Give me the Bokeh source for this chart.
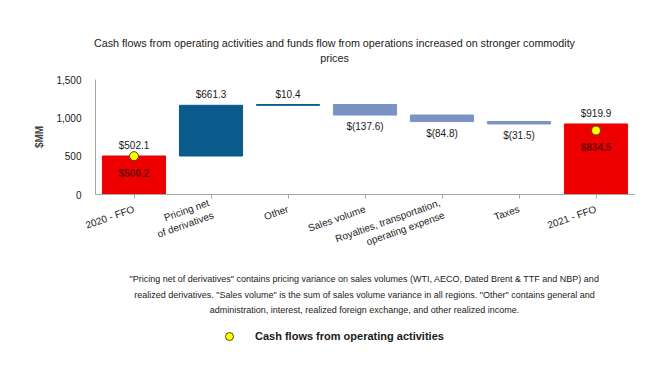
from bokeh.plotting import figure
from bokeh.layouts import column
from bokeh.models import (ColumnDataSource, Legend, LegendItem, FixedTicker,
                          NumeralTickFormatter, Range1d, FactorRange)
from bokeh.core.properties import value
from bokeh.embed import file_html
from bokeh.resources import INLINE

FONT = "Liberation Sans"

categories = ["2020 - FFO", "Pricing net\nof derivatives", "Other", "Sales volume",
              "Royalties, transportation,\noperating expense", "Taxes", "2021 - FFO"]
changes = [502.1, 661.3, 10.4, -137.6, -84.8, -31.5, 919.9]
kinds = ["total", "up", "up", "down", "down", "down", "total"]
cfo_values = [500.2, 834.5]
cfo_cats = ["2020 - FFO", "2021 - FFO"]
y_ticks = [0, 500, 1000, 1500]

title_lines = ["Cash flows from operating activities and funds flow from operations increased on stronger commodity",
               "prices"]
note_lines = ['"Pricing net of derivatives" contains pricing variance on sales volumes (WTI, AECO, Dated Brent & TTF and NBP) and',
              'realized derivatives. "Sales volume" is the sum of sales volume variance in all regions. "Other" contains general and',
              'administration, interest, realized foreign exchange, and other realized income.']
legend_label = "Cash flows from operating activities"

# waterfall geometry from data
bottoms, tops, colors, labels = [], [], [], []
running = 0.0
for c, v, k in zip(categories, changes, kinds):
    if k == "total":
        b, t = 0.0, v
        running = v
        colors.append("#ee0000")
        labels.append(f"${v:,.1f}")
    else:
        b = running
        running = running + v
        t = running
        colors.append("#0b5a8c" if k == "up" else "#7b93c3")
        labels.append(f"${v:,.1f}" if v > 0 else f"$({-v:,.1f})")
    bottoms.append(min(b, t))
    tops.append(max(b, t))

W = 650
TOP_H, CHART_H = 71, 200
BOT_H = 364 - TOP_H - CHART_H
TXT = "#1a1a1a"

# ---------- title figure ----------
pt = figure(width=W, height=TOP_H, x_range=Range1d(0, W), y_range=Range1d(TOP_H, 0),
            output_backend="svg", toolbar_location=None, min_border=0, frame_align=False)
pt.axis.visible = False
pt.grid.visible = False
pt.outline_line_color = None
pt.text(x=[334, 334], y=[42, 57], text=title_lines, text_align="center", text_baseline="middle",
        text_font=value(FONT), text_font_size="10.75px", text_color=TXT)

# ---------- chart figure ----------
p = figure(x_range=FactorRange(*categories, range_padding=0), y_range=Range1d(0, 1500),
           width=W, height=CHART_H, output_backend="svg", toolbar_location=None,
           min_border_left=95, min_border_right=16, min_border_top=8, min_border_bottom=76,
           frame_align=False)
p.outline_line_color = None
p.grid.grid_line_color = None

src = ColumnDataSource(dict(x=categories, bottom=bottoms, top=tops, color=colors))
p.vbar(x="x", bottom="bottom", top="top", width=0.82, color="color", source=src)

up_idx = [i for i, k in enumerate(kinds) if k != "down"]
dn_idx = [i for i, k in enumerate(kinds) if k == "down"]
p.text(x=[categories[i] for i in up_idx], y=[tops[i] for i in up_idx],
       text=[labels[i] for i in up_idx], text_align="center", text_baseline="bottom",
       y_offset=-5, text_font=value(FONT), text_font_size="10px", text_color=TXT)
p.text(x=[categories[i] for i in dn_idx], y=[bottoms[i] for i in dn_idx],
       text=[labels[i] for i in dn_idx], text_align="center", text_baseline="top",
       y_offset=6, text_font=value(FONT), text_font_size="10px", text_color=TXT)

p.scatter(x=cfo_cats, y=cfo_values, size=9, fill_color="#ffff00", line_color="#4d4d00", line_width=1)
p.text(x=cfo_cats, y=cfo_values, text=[f"${v:,.1f}" for v in cfo_values], text_align="center",
       text_baseline="middle", y_offset=17, text_font=value(FONT), text_font_size="10px",
       text_font_style="bold", text_color="#6e0000")

p.yaxis.ticker = FixedTicker(ticks=y_ticks)
p.yaxis.formatter = NumeralTickFormatter(format="0,0")
p.yaxis.major_tick_line_color = None
p.yaxis.major_tick_in = 0
p.yaxis.major_tick_out = 0
p.yaxis.minor_tick_line_color = None
p.yaxis.axis_line_color = "#a6a6a6"
p.yaxis.major_label_standoff = 14
p.yaxis.major_label_text_font = FONT
p.yaxis.major_label_text_font_size = "10px"
p.yaxis.major_label_text_color = TXT
p.yaxis.axis_label = "$MM"
p.yaxis.axis_label_text_font = FONT
p.yaxis.axis_label_text_font_size = "10px"
p.yaxis.axis_label_text_font_style = "bold"
p.yaxis.axis_label_standoff = 8

p.xaxis.axis_line_color = "#a6a6a6"
p.xaxis.major_tick_line_color = "#a6a6a6"
p.xaxis.major_tick_in = 0
p.xaxis.major_tick_out = 4
p.xaxis.major_label_orientation = 0.34
p.xaxis.major_label_text_font = FONT
p.xaxis.major_label_text_font_size = "10px"
p.xaxis.major_label_text_color = TXT
p.xaxis.major_label_standoff = 10

# ---------- notes + legend figure ----------
pb = figure(width=W, height=BOT_H, x_range=Range1d(0, W), y_range=Range1d(BOT_H, 0),
            output_backend="svg", toolbar_location=None, min_border=0, frame_align=False)
pb.axis.visible = False
pb.grid.visible = False
pb.outline_line_color = None
note_top = 278 - TOP_H - CHART_H
pb.text(x=[364] * 3, y=[note_top, note_top + 16, note_top + 31], text=note_lines,
        text_align="center", text_baseline="middle",
        text_font=value(FONT), text_font_size="9px", text_color=TXT)
legend_src = ColumnDataSource(dict(x=[float("nan")], y=[float("nan")]))
dot_r = pb.scatter(x="x", y="y", source=legend_src, size=9, fill_color="#ffff00",
                   line_color="#4d4d00", line_width=1)
legend = Legend(items=[LegendItem(label=legend_label, renderers=[dot_r])],
                location=(219, BOT_H - (336 - TOP_H - CHART_H) - 10), orientation="horizontal",
                glyph_width=20, glyph_height=20,
                label_standoff=16, padding=0, margin=0, border_line_color=None,
                background_fill_alpha=0, label_text_font=FONT, label_text_font_style="bold",
                label_text_font_size="11px", label_text_color=TXT)
pb.add_layout(legend, "center")

layout = column(pt, p, pb, spacing=0)
open("out.html", "w").write(file_html(layout, INLINE))
